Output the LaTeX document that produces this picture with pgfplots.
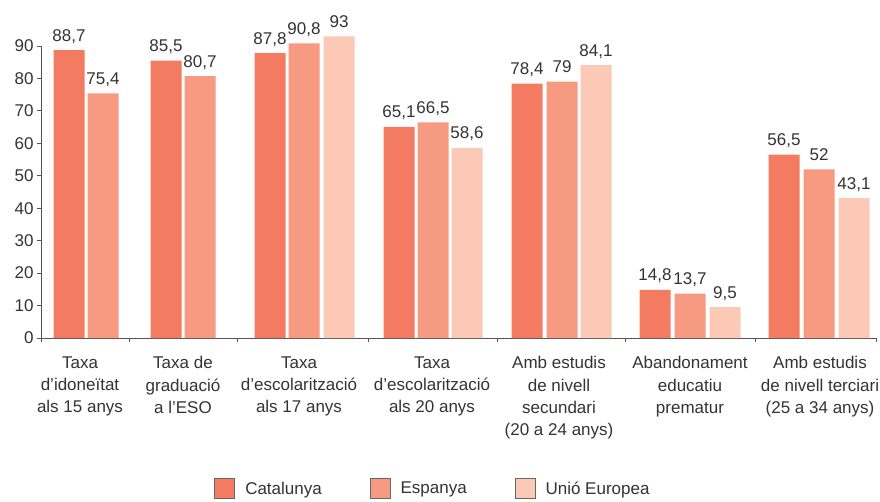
\documentclass[border=0pt]{standalone}
\usepackage{pgfplots}
\pgfplotsset{compat=1.18}
\usepackage{fontspec}
\setmainfont{Liberation Sans}
\definecolor{cat}{HTML}{F37B62}
\definecolor{esp}{HTML}{F69A82}
\definecolor{ue}{HTML}{FBC9B6}
\definecolor{txt}{HTML}{333333}
\definecolor{axl}{HTML}{555555}
\pgfplotsset{mylegend/.style={legend image code/.code={\draw[##1,draw=axl!90,line width=0.8pt] (0pt,-10pt) rectangle (20pt,10pt);}}}
\begin{document}
\begin{tikzpicture}
\useasboundingbox (0,0) rectangle (880pt,501pt);
\begin{axis}[
  at={(41pt,163pt)}, anchor=south west,
  x=1pt, y=3.2444pt,
  xmin=41, xmax=876, ymin=0, ymax=90,
  enlargelimits=false,
  clip=false,
  axis x line*=bottom, axis y line*=left,
  axis line style={axl, line width=0.9pt, -},
  ytick={0,10,...,90},
  xtick={41,129,237,368,497,625,755,876},
  xticklabels={},
  extra x ticks={80,183,299,432,559,690,820},
  extra x tick labels={Taxa\\d'idoneïtat\\als 15 anys, Taxa de\\graduació\\a l'ESO, Taxa\\d'escolarització\\als 17 anys, Taxa\\d'escolarització\\als 20 anys, Amb estudis\\de nivell\\secundari\\(20 a 24 anys), Abandonament\\educatiu\\prematur, Amb estudis\\de nivell terciari\\(25 a 34 anys)},
  extra x tick style={major tick length=0pt, tick label style={align=center, yshift=-15pt}},
  tick align=outside, major tick length=4pt,
  tick style={axl, line width=0.9pt},
  tick label style={font=\fontsize{17}{22.3}\selectfont, text=txt},
  /pgf/number format/assume math mode=true,
  ybar, bar width=31, 
  nodes near coords={\pgfmathprintnumber[use comma,assume math mode=true]{\pgfplotspointmeta}},
  every node near coord/.append style={font=\fontsize{17}{20}\selectfont, text=txt, anchor=base, yshift=9pt},
  legend columns=3,
  legend style={at={(axis cs:433,-46.5)}, anchor=center, draw=none, font=\fontsize{17}{20}\selectfont, text=txt,
    /tikz/every odd column/.append style={column sep=8pt},
    /tikz/every even column/.append style={column sep=46pt}},
]
\addplot[fill=cat, draw=none, bar shift=0pt, mylegend] coordinates {(69,88.7) (166,85.5) (270,87.8) (399,65.1) (527,78.4) (655,14.8) (784,56.5)};
\addplot[fill=esp, draw=none, bar shift=0pt, mylegend] coordinates {(103,75.4) (200,80.7) (304,90.8) (433,66.5) (562,79) (690,13.7) (819,52)};
\addplot[fill=ue, draw=none, bar shift=0pt, mylegend] coordinates {(339,93) (467,58.6) (596,84.1) (725,9.5) (854,43.1)};
\legend{Catalunya, Espanya, Unió Europea}
\end{axis}
\end{tikzpicture}
\end{document}
